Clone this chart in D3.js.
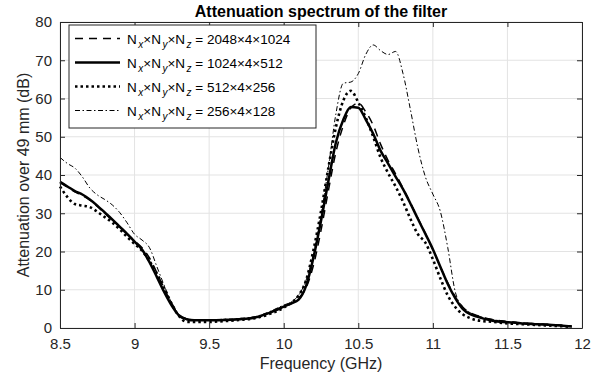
<!DOCTYPE html>
<html>
<head>
<meta charset="utf-8">
<script src="https://cdn.jsdelivr.net/npm/d3@7"></script>
<style>
  body { margin: 0; background: #fff; }
  svg { font-family: "Liberation Sans", Arial, Helvetica, sans-serif; }
</style>
</head>
<body>
<svg width="604" height="379"></svg>
<script>
// frequency grid (GHz) shared by the four runs
const freq = [8.5, 8.55, 8.6, 8.65, 8.7, 8.75, 8.8, 8.85, 8.9, 8.95, 9.0, 9.05, 9.1, 9.15, 9.2, 9.25, 9.3, 9.35, 9.4, 9.5,
  9.6, 9.7, 9.8, 9.9, 10.0, 10.05, 10.1, 10.15, 10.2, 10.25, 10.3, 10.35, 10.4, 10.45, 10.5, 10.55, 10.6, 10.65, 10.7,
  10.75, 10.8, 10.85, 10.9, 10.95, 11.0, 11.05, 11.1, 11.15, 11.2, 11.25, 11.3, 11.4, 11.5, 11.6, 11.7, 11.8, 11.93];

// attenuation (dB) for each grid size
const att2048 = [38.0, 36.8, 35.6, 34.6, 33.4, 31.8, 30.0, 28.2, 26.4, 24.6, 22.8, 21.0, 18.3, 14.4, 10.2, 6.4, 3.4, 2.4, 2.1, 2.1,
  2.2, 2.4, 2.8, 3.9, 5.5, 6.5, 7.8, 10.5, 16.5, 25.5, 36.0, 46.0, 53.0, 57.5, 58.8, 56.5, 53.0, 48.0, 43.8,
  40.3, 36.6, 32.7, 28.7, 24.7, 20.5, 16.0, 11.8, 8.2, 5.5, 4.0, 3.2, 2.2, 1.7, 1.3, 1.1, 0.9, 0.5];
const att1024 = [38.2, 37.0, 35.8, 34.9, 33.6, 32.0, 30.2, 28.4, 26.5, 24.6, 22.6, 20.5, 17.2, 13.3, 9.3, 5.8, 3.2, 2.3, 2.0, 2.0,
  2.1, 2.3, 2.7, 3.9, 5.6, 6.4, 7.4, 11.0, 18.5, 28.0, 38.5, 48.5, 54.5, 57.8, 57.6, 54.5, 50.8, 46.3, 43.0,
  39.6, 36.3, 32.5, 28.5, 24.6, 20.6, 16.0, 11.5, 7.8, 5.0, 3.6, 2.9, 1.9, 1.5, 1.2, 1.0, 0.8, 0.4];
const att512 = [37.0, 34.2, 32.4, 32.0, 31.6, 30.4, 29.0, 27.6, 25.8, 23.8, 22.0, 20.2, 17.5, 14.2, 10.3, 6.2, 3.0, 1.6, 1.6, 1.6,
  1.8, 2.1, 2.5, 3.6, 5.3, 6.6, 8.5, 12.5, 20.5, 30.5, 42.0, 52.5, 59.5, 62.0, 59.0, 55.0, 50.0, 44.5, 40.5,
  37.0, 33.0, 28.5, 24.5, 22.3, 18.0, 13.0, 8.5, 5.5, 3.6, 2.6, 2.0, 1.6, 1.2, 1.0, 0.8, 0.6, 0.3];
const att256 = [44.6, 43.0, 41.8, 39.5, 36.6, 34.8, 33.6, 32.2, 30.2, 27.5, 24.5, 23.0, 21.0, 16.0, 11.0, 6.5, 3.4, 2.4, 2.2, 2.2,
  2.3, 2.5, 2.9, 4.2, 6.0, 6.8, 8.6, 12.5, 19.5, 29.5, 42.0, 56.0, 64.0, 64.3, 66.5, 71.5, 74.0, 72.5, 71.5,
  72.3, 66.5, 57.0, 47.0, 39.5, 35.0, 30.5, 21.0, 9.5, 5.5, 4.0, 3.2, 2.2, 1.7, 1.4, 1.1, 0.9, 0.5];

const gridSizes = ["2048×4×1024", "1024×4×512", "512×4×256", "256×4×128"];
const xTicks = [8.5, 9, 9.5, 10, 10.5, 11, 11.5, 12];
const yTicks = [0, 10, 20, 30, 40, 50, 60, 70, 80];

const series = [att2048, att1024, att512, att256];
const styles = [
  { width: 1.5, dash: "8,6" },
  { width: 2.5, dash: null },
  { width: 2.6, dash: "2.5,3" },
  { width: 1, dash: "5,2.5,1.5,2.5" }
];

const margin = { top: 22, right: 22, bottom: 51, left: 60 };
const width = 604 - margin.left - margin.right;
const height = 379 - margin.top - margin.bottom;
const axisColor = "#262626";

const svg = d3.select("svg");
const g = svg.append("g").attr("transform", `translate(${margin.left},${margin.top})`);

const x = d3.scaleLinear().domain([8.5, 12]).range([0, width]);
const y = d3.scaleLinear().domain([0, 80]).range([height, 0]);

// grid
g.append("g").selectAll("line").data(xTicks).enter().append("line")
  .attr("x1", d => x(d)).attr("x2", d => x(d)).attr("y1", 0).attr("y2", height)
  .attr("stroke", "#e3e3e3").attr("stroke-width", 1);
g.append("g").selectAll("line").data(yTicks).enter().append("line")
  .attr("y1", d => y(d)).attr("y2", d => y(d)).attr("x1", 0).attr("x2", width)
  .attr("stroke", "#e3e3e3").attr("stroke-width", 1);

// curves
const line = d3.line()
  .x((d, i) => x(freq[i]))
  .y(d => y(d))
  .curve(d3.curveMonotoneX);

series.forEach((vals, i) => {
  g.append("path")
    .datum(vals)
    .attr("fill", "none")
    .attr("stroke", "#000")
    .attr("stroke-width", styles[i].width)
    .attr("stroke-dasharray", styles[i].dash)
    .attr("stroke-linejoin", "round")
    .attr("d", line);
});

// axes, ticks pointing inward
function styleAxis(sel) {
  sel.select(".domain").attr("stroke", axisColor).attr("stroke-width", 1);
  sel.selectAll(".tick line").attr("stroke", axisColor);
  sel.selectAll(".tick text").attr("fill", axisColor).style("font-size", "15px");
}
g.append("g").attr("transform", `translate(0,${height})`)
  .call(d3.axisBottom(x).tickValues(xTicks).tickSize(-5).tickPadding(10).tickSizeOuter(0).tickFormat(d3.format("")))
  .call(styleAxis);
g.append("g")
  .call(d3.axisLeft(y).tickValues(yTicks).tickSize(-5).tickPadding(8).tickSizeOuter(0))
  .call(styleAxis);
g.append("g")
  .call(d3.axisTop(x).tickValues(xTicks).tickSize(-5).tickSizeOuter(0).tickFormat(""))
  .call(styleAxis);
g.append("g").attr("transform", `translate(${width},0)`)
  .call(d3.axisRight(y).tickValues(yTicks).tickSize(-5).tickSizeOuter(0).tickFormat(""))
  .call(styleAxis);

// labels
svg.append("text")
  .attr("x", margin.left + width / 2).attr("y", 17)
  .attr("text-anchor", "middle")
  .style("font-size", "16px").style("font-weight", "bold")
  .text("Attenuation spectrum of the filter");

svg.append("text")
  .attr("x", margin.left + width / 2).attr("y", 369)
  .attr("text-anchor", "middle").attr("fill", axisColor)
  .style("font-size", "16px")
  .text("Frequency (GHz)");

svg.append("text")
  .attr("transform", `translate(29,${margin.top + height / 2}) rotate(-90)`)
  .attr("text-anchor", "middle").attr("fill", axisColor)
  .style("font-size", "16px")
  .text("Attenuation over 49 mm (dB)");

// legend
const legend = svg.append("g").attr("transform", "translate(69,25)");
legend.append("rect")
  .attr("width", 247).attr("height", 103)
  .attr("fill", "#fff").attr("stroke", axisColor).attr("stroke-width", 1);

gridSizes.forEach((label, i) => {
  const row = legend.append("g").attr("transform", `translate(0,${13.5 + i * 24})`);
  row.append("line")
    .attr("x1", 6).attr("x2", 51).attr("y1", 0).attr("y2", 0)
    .attr("stroke", "#000")
    .attr("stroke-width", styles[i].width)
    .attr("stroke-dasharray", styles[i].dash);
  const t = row.append("text").attr("x", 58).attr("y", 5)
    .style("font-size", "13.5px").attr("fill", "#000");
  ["x", "y", "z"].forEach((s, k) => {
    t.append("tspan").attr("dy", k === 0 ? 0 : -4).text(k === 0 ? "N" : "×N");
    t.append("tspan").attr("dx", 1.5).attr("dy", 4)
      .style("font-size", "10px").style("font-style", "italic").text(s);
  });
  t.append("tspan").attr("dy", -4).text(" = " + label);
});
</script>
</body>
</html>
